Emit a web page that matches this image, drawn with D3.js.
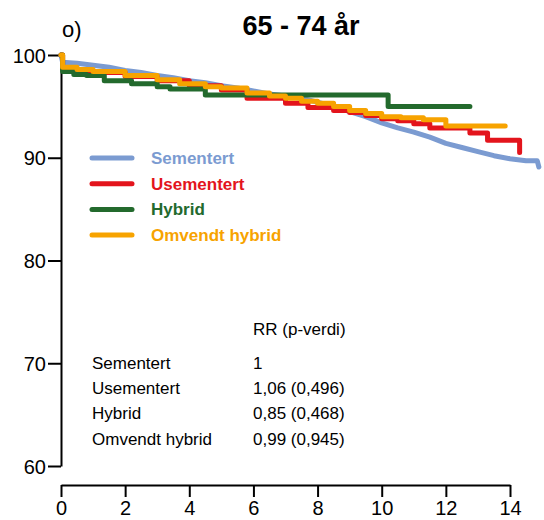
<!DOCTYPE html>
<html>
<head>
<meta charset="utf-8">
<script src="https://cdn.jsdelivr.net/npm/d3@7"></script>
<style>
  body { margin: 0; background: #fff; }
  svg { display: block; font-family: "Liberation Sans", Arial, sans-serif; }
</style>
</head>
<body>
<svg id="chart" width="544" height="520"></svg>
<script>
// Survival curves: [years, percent]
const sementert = [
  [0,100],[0.05,99.3],[0.5,99.2],[1,99.0],[1.5,98.8],[2,98.5],[2.5,98.3],[3,98.0],
  [3.5,97.8],[4,97.5],[4.5,97.3],[5,97.0],[5.5,96.8],[6,96.5],[6.5,96.2],[7,96.0],
  [7.5,95.8],[8,95.4],[8.5,95.0],[9,94.5],[9.5,94.0],[10,93.4],[10.5,92.9],[11,92.5],
  [11.5,92.0],[12,91.4],[12.5,91.0],[13,90.6],[13.5,90.2],[14,89.9],[14.5,89.7],
  [14.85,89.7],[14.9,89.1]
];
const usementert = [
  [0,100],[0.05,98.7],[0.5,98.5],[1,98.3],[2,97.9],[3,97.5],[4,97.0],[5,96.6],
  [5.8,95.8],[7,95.3],[7.7,94.9],[8.5,94.6],[9,94.4],[9.5,94.1],[10,93.8],
  [10.5,93.6],[11,93.3],[11.5,92.9],[12.75,92.4],[13.3,91.7],[14.3,90.5]
];
const hybrid = [
  [0,100],[0.05,98.4],[0.4,98.1],[0.8,98.0],[1.35,97.5],[2.2,97.2],[3,96.9],
  [3.4,96.7],[4.5,96.1],[10.2,95.0],[12.75,95.0]
];
const omvendt = [
  [0,100],[0.05,98.8],[0.5,98.6],[1,98.4],[2,98.0],[3,97.6],[3.7,97.2],[4.5,96.9],
  [5,96.8],[5.8,96.3],[6.5,96.0],[7,95.8],[7.5,95.5],[8,95.3],[8.5,95.0],[9,94.6],
  [9.5,94.3],[10,94.0],[10.6,93.9],[11.3,93.7],[12.0,93.1],[13.85,93.1]
];

const seriesNames  = ["Sementert", "Usementert", "Hybrid", "Omvendt hybrid"];
const seriesColors = ["#7b9bd1", "#e3141c", "#236a2d", "#f7a300"];
const seriesData   = [sementert, usementert, hybrid, omvendt];

const xTicks = [0, 2, 4, 6, 8, 10, 12, 14];
const yTicks = [60, 70, 80, 90, 100];

const rrHeader = "RR (p-verdi)";
const rrValues = ["1", "1,06 (0,496)", "0,85 (0,468)", "0,99 (0,945)"];

const svg = d3.select("#chart");

const x = d3.scaleLinear().domain([0, 14]).range([61, 510]);
const y = d3.scaleLinear().domain([60, 100]).range([466, 55]);

// title + panel letter
svg.append("text")
  .attr("x", 62).attr("y", 37)
  .style("font-size", "22px")
  .text("o)");
svg.append("text")
  .attr("x", 301).attr("y", 35)
  .attr("text-anchor", "middle")
  .style("font-size", "27px").style("font-weight", "bold")
  .text("65 - 74 år");

// axes
const yAxis = svg.append("g")
  .attr("transform", "translate(61,0)")
  .call(d3.axisLeft(y).tickValues(yTicks).tickSize(13).tickSizeOuter(0).tickPadding(2));
const xAxis = svg.append("g")
  .attr("transform", "translate(0,485)")
  .call(d3.axisBottom(x).tickValues(xTicks).tickSize(12).tickSizeOuter(0).tickPadding(4));

[yAxis, xAxis].forEach(g => {
  g.selectAll("path, line").attr("stroke", "#000").attr("stroke-width", 2);
  g.selectAll("text").style("font-size", "20px").attr("fill", "#000")
    .style("font-family", "'Liberation Sans', Arial, sans-serif");
});
yAxis.selectAll("text").attr("dy", "0.36em");

// curves (blue has many events, drawn as a plain line; the rest step)
const line = d3.line()
  .x(d => x(d[0]))
  .y(d => y(d[1]));

seriesData.forEach((data, i) => {
  line.curve(i === 0 ? d3.curveLinear : d3.curveStepAfter);
  svg.append("path")
    .datum(data)
    .attr("fill", "none")
    .attr("stroke", seriesColors[i])
    .attr("stroke-width", 5)
    .attr("stroke-linecap", "round")
    .attr("stroke-linejoin", "round")
    .attr("d", line(data));
});

// legend
const legend = svg.append("g");
seriesNames.forEach((name, i) => {
  const ly = 158 + i * 25.7;
  legend.append("line")
    .attr("x1", 92).attr("x2", 132)
    .attr("y1", ly).attr("y2", ly)
    .attr("stroke", seriesColors[i])
    .attr("stroke-width", 5)
    .attr("stroke-linecap", "round");
  legend.append("text")
    .attr("x", 151).attr("y", ly + 6)
    .attr("fill", seriesColors[i])
    .style("font-size", "17px").style("font-weight", "bold")
    .text(name);
});

// RR table
svg.append("text")
  .attr("x", 253).attr("y", 335)
  .style("font-size", "17px")
  .text(rrHeader);
seriesNames.forEach((name, i) => {
  const ty = 369 + i * 25.2;
  svg.append("text").attr("x", 92).attr("y", ty).style("font-size", "17px").text(name);
  svg.append("text").attr("x", 253).attr("y", ty).style("font-size", "17px").text(rrValues[i]);
});
</script>
</body>
</html>
